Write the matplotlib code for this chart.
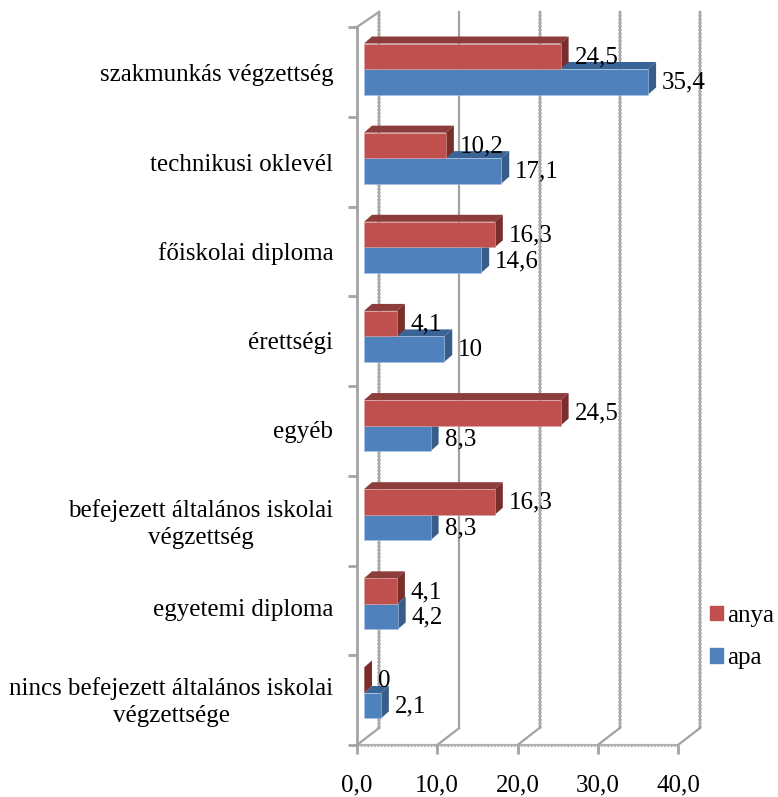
import numpy as np
import matplotlib
matplotlib.use('Agg')
import matplotlib.pyplot as plt
from matplotlib.patches import Patch

plt.rcParams['font.family'] = ['Liberation Serif', 'DejaVu Serif']

categories = ['szakmunkás végzettség', 'technikusi oklevél', 'főiskolai diploma', 'érettségi', 'egyéb',
              'befejezett általános iskolai\nvégzettség', 'egyetemi diploma',
              'nincs befejezett általános iskolai\nvégzettsége']
anya = [24.5, 10.2, 16.3, 4.1, 24.5, 16.3, 4.1, 0]
apa = [35.4, 17.1, 14.6, 10, 8.3, 8.3, 4.2, 2.1]
xticks = [0, 10, 20, 30, 40]

W, H = 778, 797
# pixel sizes of the fake 3d, converted to data units below
X0, X40, Y_TOP, Y_BOT = 357, 678, 27, 745
ROW0, ROW_STEP = 69, 89.14
px = 40 / (X40 - X0)
py = 1 / ROW_STEP

RED, RED_TOP, RED_SIDE = '#C0504D', '#8C3D3B', '#7A2E2C'
BLUE, BLUE_TOP, BLUE_SIDE = '#4F81BD', '#3A6396', '#385D8A'
GRID = '#A3A3A3'
FS = 18

fig = plt.figure(figsize=(W / 100, H / 100), dpi=100)
ax = fig.add_axes([X0 / W, 1 - Y_BOT / H, (X40 - X0) / W, (Y_BOT - Y_TOP) / H])
ax.set_xlim(0, 40)
ax.set_ylim((Y_BOT - ROW0) / ROW_STEP, (Y_TOP - ROW0) / ROW_STEP)
y0, y1 = ax.get_ylim()

# back wall grid, all but the 10 line look jagged in the original
dx, dy = 22 * px, 17 * py
for v in xticks:
    ax.plot([v + dx, v + dx], [y0 - dy, y1 - dy + 2 * py], color=GRID, lw=1.6, clip_on=False, zorder=1)
    if v != 10:
        ax.plot([v + dx, v + dx], [y0 - dy, y1 - dy + 2 * py], color='#B0B0B0', lw=2.6, ls=(0, (0.5, 0.5)),
                clip_on=False, zorder=1)
    ax.plot([v, v + dx], [y0, y0 - dy], color=GRID, lw=1.6, clip_on=False, zorder=1)
ax.plot([0, dx], [y1, y1 - 15 * py], color=GRID, lw=1.6, clip_on=False, zorder=1)
ax.plot([0, 40], [y0, y0], color=GRID, lw=1.2, clip_on=False, zorder=1)
ax.plot([0, 40], [y0, y0], color='#B0B0B0', lw=2.4, ls=(0, (0.5, 0.5)), clip_on=False, zorder=1)

# bars
start = 7 * px
h = 25.5 * py
d_x, d_y = 8 * px, 7 * py


def depth(v, y, top, side):
    e = start + v
    ax.fill([start, e, e + d_x, start + d_x], [y, y, y - d_y, y - d_y], color=top, lw=0, zorder=2)
    ax.fill([e, e + d_x, e + d_x, e], [y, y - d_y, y + h - d_y, y + h], color=side, lw=0, zorder=2)


for i in range(len(categories)):
    depth(apa[i], i, BLUE_TOP, BLUE_SIDE)
    ax.barh(i, apa[i], height=h, left=start, align='edge', color=BLUE, edgecolor='#A9C4E6', lw=0.4, zorder=3)
    depth(anya[i], i - h, RED_TOP, RED_SIDE)
    ax.barh(i - h, anya[i], height=h, left=start, align='edge', color=RED, edgecolor='#D9A3A1', lw=0.4, zorder=3)
    ax.text(start + anya[i] + 14 * px, i - h / 2 + 1 * py, f'{anya[i]:g}'.replace('.', ','), fontsize=FS,
            va='center', ha='left', zorder=5)
    ax.text(start + apa[i] + 14 * px, i + h / 2 + 1 * py, f'{apa[i]:g}'.replace('.', ','), fontsize=FS,
            va='center', ha='left', zorder=5)

# axes
for s in ['top', 'right', 'bottom']:
    ax.spines[s].set_visible(False)
ax.spines['left'].set_color(GRID)
ax.spines['left'].set_linewidth(2)

ax.set_xticks(xticks, [f'{v:.1f}'.replace('.', ',') for v in xticks], fontsize=FS)
ax.tick_params(axis='x', length=6.5, width=2, color=GRID, pad=15)
ax.set_yticks(np.linspace(y1, y0, 9), [])
ax.tick_params(axis='y', which='major', length=6.5, width=2, color=GRID)
ax.set_yticks(np.arange(len(categories)) + 4 * py, categories, minor=True, fontsize=FS, ma='center')
ax.tick_params(axis='y', which='minor', length=0, pad=17)
for lab in ax.get_yticklabels(minor=True):
    lab.set_linespacing(1.3)

handles = [Patch(color=RED, label='anya'), Patch(color=BLUE, label='apa')]
fig.legend(handles=handles, loc='center left', bbox_to_anchor=(687 / W, 1 - 637 / H), frameon=False, fontsize=FS,
           handlelength=0.52, handleheight=0.52, handletextpad=0.2, labelspacing=0.82)

fig.savefig('out.png', dpi=100)
